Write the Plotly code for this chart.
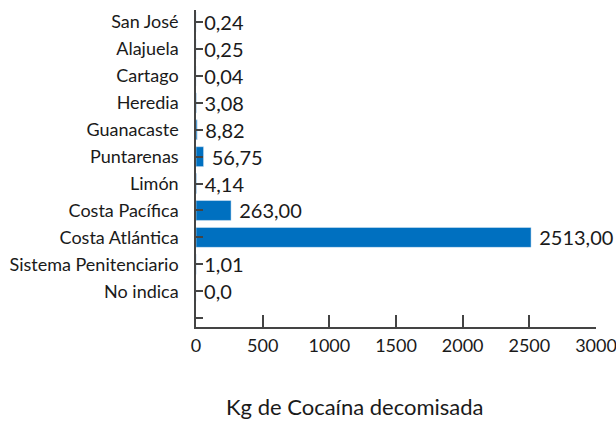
import plotly.graph_objects as go

# Data (top to bottom as shown in the chart)
categories = ["San José", "Alajuela", "Cartago", "Heredia", "Guanacaste", "Puntarenas",
              "Limón", "Costa Pacífica", "Costa Atlántica", "Sistema Penitenciario", "No indica"]
values = [0.24, 0.25, 0.04, 3.08, 8.82, 56.75, 4.14, 263.00, 2513.00, 1.01, 0.0]
value_labels = ["0,24", "0,25", "0,04", "3,08", "8,82", "56,75", "4,14",
                "263,00", "2513,00", "1,01", "0,0"]
x_ticks = [0, 500, 1000, 1500, 2000, 2500, 3000]
x_title = "Kg de Cocaína decomisada"

font_family = "Lato, 'Open Sans', Arial, sans-serif"

# numeric slots: first category at the top, an empty slot at the bottom
n = len(categories)
positions = [n - i for i in range(n)]
tick_pos = list(range(0, n + 1))
tick_text = [""] + categories[::-1]

fig = go.Figure(go.Bar(
    x=values,
    y=positions,
    orientation="h",
    width=0.74,
    marker=dict(color="#0070C0"),
    text=value_labels,
    texttemplate=" %{text}",
    textposition="outside",
    constraintext="none",
    cliponaxis=False,
    textfont=dict(size=20, color="#1a1a1a", family=font_family),
))

fig.update_layout(
    width=616,
    height=422,
    margin=dict(l=196, r=20, t=10, b=95, autoexpand=False),
    paper_bgcolor="white",
    plot_bgcolor="white",
    font=dict(family=font_family, color="#1a1a1a"),
    showlegend=False,
)

# axis title sits left of the plot centre in the original, so use an annotation
fig.add_annotation(
    text=x_title,
    xref="paper", yref="paper",
    x=0.3975, y=-0.252,
    xanchor="center", yanchor="middle",
    showarrow=False,
    font=dict(size=22, family=font_family, color="#1a1a1a"),
)

fig.update_xaxes(
    range=[0, 3000],
    tickvals=x_ticks,
    ticktext=[str(t) for t in x_ticks],
    ticks="inside",
    ticklen=12,
    tickwidth=1.5,
    tickcolor="#444",
    showline=True,
    linecolor="#444",
    linewidth=1.5,
    showgrid=False,
    zeroline=False,
    automargin=False,
    ticklabeloverflow="allow",
    ticklabelstandoff=2,
    tickfont=dict(size=18),
)

fig.update_yaxes(
    range=[-0.33, n + 0.45],
    tickvals=tick_pos,
    ticktext=tick_text,
    ticks="inside",
    ticklen=7,
    tickwidth=1.5,
    tickcolor="#444",
    showline=True,
    linecolor="#444",
    linewidth=1.5,
    showgrid=False,
    zeroline=False,
    automargin=False,
    tickfont=dict(size=18),
    ticklabelstandoff=12,
)

# drop the default body margin so the figure fills the window exactly
fig.write_html("out.html", config={"displayModeBar": False},
               post_script="document.body.style.margin = '0';")
